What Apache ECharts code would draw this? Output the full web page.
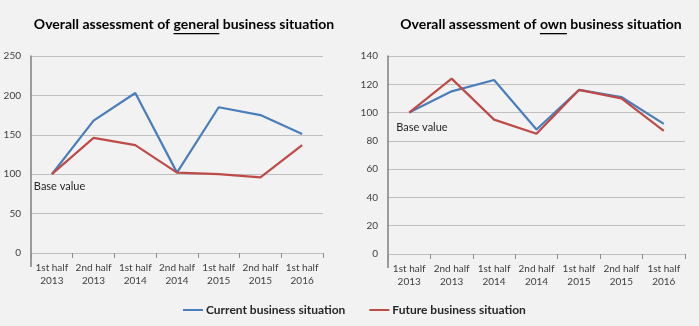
<!DOCTYPE html>
<html><head><meta charset="utf-8">
<script src="https://cdn.jsdelivr.net/npm/echarts@6/dist/echarts.min.js"></script>
<style>html,body{margin:0;padding:0;background:#f2f2f2}#c{width:699px;height:326px}</style>
</head><body><div id="c"></div><script>
const categories = ['1st half\n2013','2nd half\n2013','1st half\n2014','2nd half\n2014','1st half\n2015','2nd half\n2015','1st half\n2016'];
const generalCurrent = [100,168,203,102,185,175,151];
const generalFuture = [100,146,137,102,100,96,137];
const ownCurrent = [100,115,123,88,116,111,92];
const ownFuture = [100,124,95,85,116,110,87];
const generalTicks = {min:0,max:250,interval:50};
const ownTicks = {min:0,max:140,interval:20};
const seriesNames = ['Current business situation','Future business situation'];
const titleParts = [['Overall assessment of ','general',' business situation'],['Overall assessment of ','own',' business situation']];
const baseLabel = 'Base value';

const FONT = 'Lato, "Open Sans", sans-serif';
const BLUE = '#4a7ebb', RED = '#be4b48';
const txt = '#262626', axTxt = '#404040';

const chart = echarts.init(document.getElementById('c'));

const grids = [
  {left:31, right:376, top:56, bottom:73},
  {left:388, right:14, top:56, bottom:72}
];
function xAx(i){return {type:'category', gridIndex:i, data:categories, boundaryGap:true,
  axisLine:{show:true,lineStyle:{color:'#bfbfbf',width:1}},
  axisTick:{show:true,length:5,inside:false,lineStyle:{color:'#8c8c8c'}},
  axisLabel:{color:axTxt,fontFamily:FONT,fontSize:10,lineHeight:13,margin:8,interval:0}};}
function yAx(i,t){return {type:'value', gridIndex:i, min:t.min, max:t.max, interval:t.interval,
  axisLine:{show:true,lineStyle:{color:'#7f7f7f',width:1.5}},
  axisTick:{show:false},
  splitLine:{lineStyle:{color:'#bfbfbf',width:1}},
  axisLabel:{color:axTxt,fontFamily:FONT,fontSize:10,margin:10}};}
function ser(name,data,i,color,mp){
  const s = {name, type:'line', xAxisIndex:i, yAxisIndex:i, data, symbol:'none',
    lineStyle:{color, width:2.2}, itemStyle:{color}, z:3};
  if(mp){ s.markPoint = {symbol:'circle', symbolSize:0, silent:true,
    data:[{coord:[0,data[0]], label:{show:true, formatter:baseLabel, position:'inside', align:'left',
      verticalAlign:'middle', offset:mp, color:txt, fontFamily:FONT, fontSize:11}}]}; }
  return s;
}
chart.setOption({
  backgroundColor:'#f2f2f2',
  animation:false,
  grid:grids,
  xAxis:[xAx(0),xAx(1)],
  yAxis:[yAx(0,generalTicks),yAx(1,ownTicks)],
  legend:{data:seriesNames, bottom:5, left:178, itemGap:24, itemWidth:20, itemHeight:2, icon:'rect',
    textStyle:{color:txt,fontFamily:FONT,fontSize:12,fontWeight:'bold',padding:[0,0,0,-2]}},
  series:[
    ser(seriesNames[0],generalCurrent,0,BLUE,[-18,12]),
    ser(seriesNames[1],generalFuture,0,RED),
    ser(seriesNames[0],ownCurrent,1,BLUE,[-13,15]),
    ser(seriesNames[1],ownFuture,1,RED)
  ]
});

// titles with underline + extended y-axis line
const ctx = document.createElement('canvas').getContext('2d');
const TFS = 14;
ctx.font = 'bold '+TFS+'px '+FONT;
const centers = [184, 541];
const graphics = [];
titleParts.forEach((p,i)=>{
  const full = p.join('');
  const w = ctx.measureText(full).width;
  const x0 = centers[i]-w/2;
  const u0 = x0 + ctx.measureText(p[0]).width;
  const uw = ctx.measureText(p[1]).width;
  graphics.push({type:'text', left:x0, top:17, style:{text:full, font:'bold '+TFS+'px '+FONT, fill:'#000'}});
  graphics.push({type:'rect', shape:{x:u0,y:33,width:uw,height:1.3}, style:{fill:'#000'}});
});
[0,1].forEach(i=>{
  const p0 = chart.convertToPixel({gridIndex:i},[0,0]);
  const gx = grids[i].left;
  graphics.push({type:'line', shape:{x1:gx,y1:p0[1],x2:gx,y2:p0[1]+14}, style:{stroke:'#7f7f7f',lineWidth:1.5}});
});
chart.setOption({graphic:graphics});
</script></body></html>
